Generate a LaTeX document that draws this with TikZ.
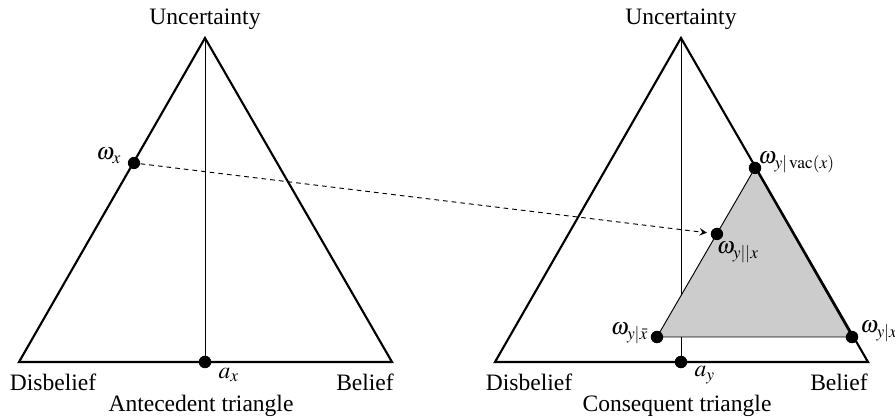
\documentclass[tikz,border=0pt]{standalone}
\usepackage{mathptmx}
\usepackage[no-math]{fontspec}
\setmainfont{Liberation Serif}
\usetikzlibrary{positioning}

\begin{document}
\begin{tikzpicture}[>=stealth, x=0.425pt, y=-0.425pt,
    dot/.style={circle, fill, inner sep=0pt, minimum size=5.2pt},
    side/.style={line width=0.9pt},
    axis/.style={line width=0.4pt},
    lbl/.style={inner sep=0pt}]

    \useasboundingbox (0,0) rectangle (895,417);

    % Antecedent triangle
    \coordinate (ldis) at (19,362);
    \coordinate (lbel) at (392,362);
    \coordinate (lunc) at (205,38);
    \node[dot] (ax) at (205,362) {};
    \draw[axis] (lunc) -- (ax.center);
    \draw[side] (ldis) -- (lbel) -- (lunc) -- cycle;
    \node[dot] at (ax) {};

    \node[lbl] (lunctext) at (205,19) {Uncertainty};
    \node[lbl] (ldistext) at (53,382) {Disbelief};
    \node[lbl] (lbeltext) at (365,382) {Belief};
    \node[lbl] (axtext) at (229,375) {$a_x$};
    \node[lbl] (lcap) at (201,406) {Antecedent triangle};

    \node[dot] (wx) at (134,163) {};
    \node[lbl] (wxtext) at (109,156) {$\omega_x$};

    % Consequent triangle
    \coordinate (rdis) at (495,362);
    \coordinate (rbel) at (868,362);
    \coordinate (runc) at (681,38);
    \node[dot] (ay) at (681,362) {};
    \draw[axis] (runc) -- (ay.center);

    \node[dot] (wyvac) at (755,168) {};
    \node[dot] (wyxbar) at (657,337) {};
    \node[dot] (wyx) at (852,337) {};
    \node[dot] (wyxx) at (717,234) {};

    \draw[axis, fill=gray!40] (wyvac.center) -- (wyxbar.center) -- (wyx.center) -- cycle;
    \draw[side] (rdis) -- (rbel) -- (runc) -- cycle;
    \foreach \d in {wyvac, wyxbar, wyx, wyxx, ay}
        \node[dot] at (\d) {};

    \node[lbl] (runctext) at (681,19) {Uncertainty};
    \node[lbl] (rdistext) at (529,382) {Disbelief};
    \node[lbl] (rbeltext) at (839,382) {Belief};
    \node[lbl] (aytext) at (705,375) {$a_y$};
    \node[lbl] (rcap) at (677,406) {Consequent triangle};

    \node[lbl, anchor=west] (wyvactext) at (758,162) {$\omega_{y|\,\mathrm{vac}(x)}$};
    \node[lbl] (wyxxtext) at (738,252) {$\omega_{y||x}$};
    \node[lbl, anchor=east] (wyxbartext) at (649,333) {$\omega_{y|\bar{x}}$};
    \node[lbl, anchor=west] (wyxtext) at (860,331) {$\omega_{y|x}$};

    % Deduction mapping
    \draw[->, axis, dash pattern=on 2pt off 1.7pt, shorten >=1.5pt] (wx) -- (wyxx);

\end{tikzpicture}
\end{document}
